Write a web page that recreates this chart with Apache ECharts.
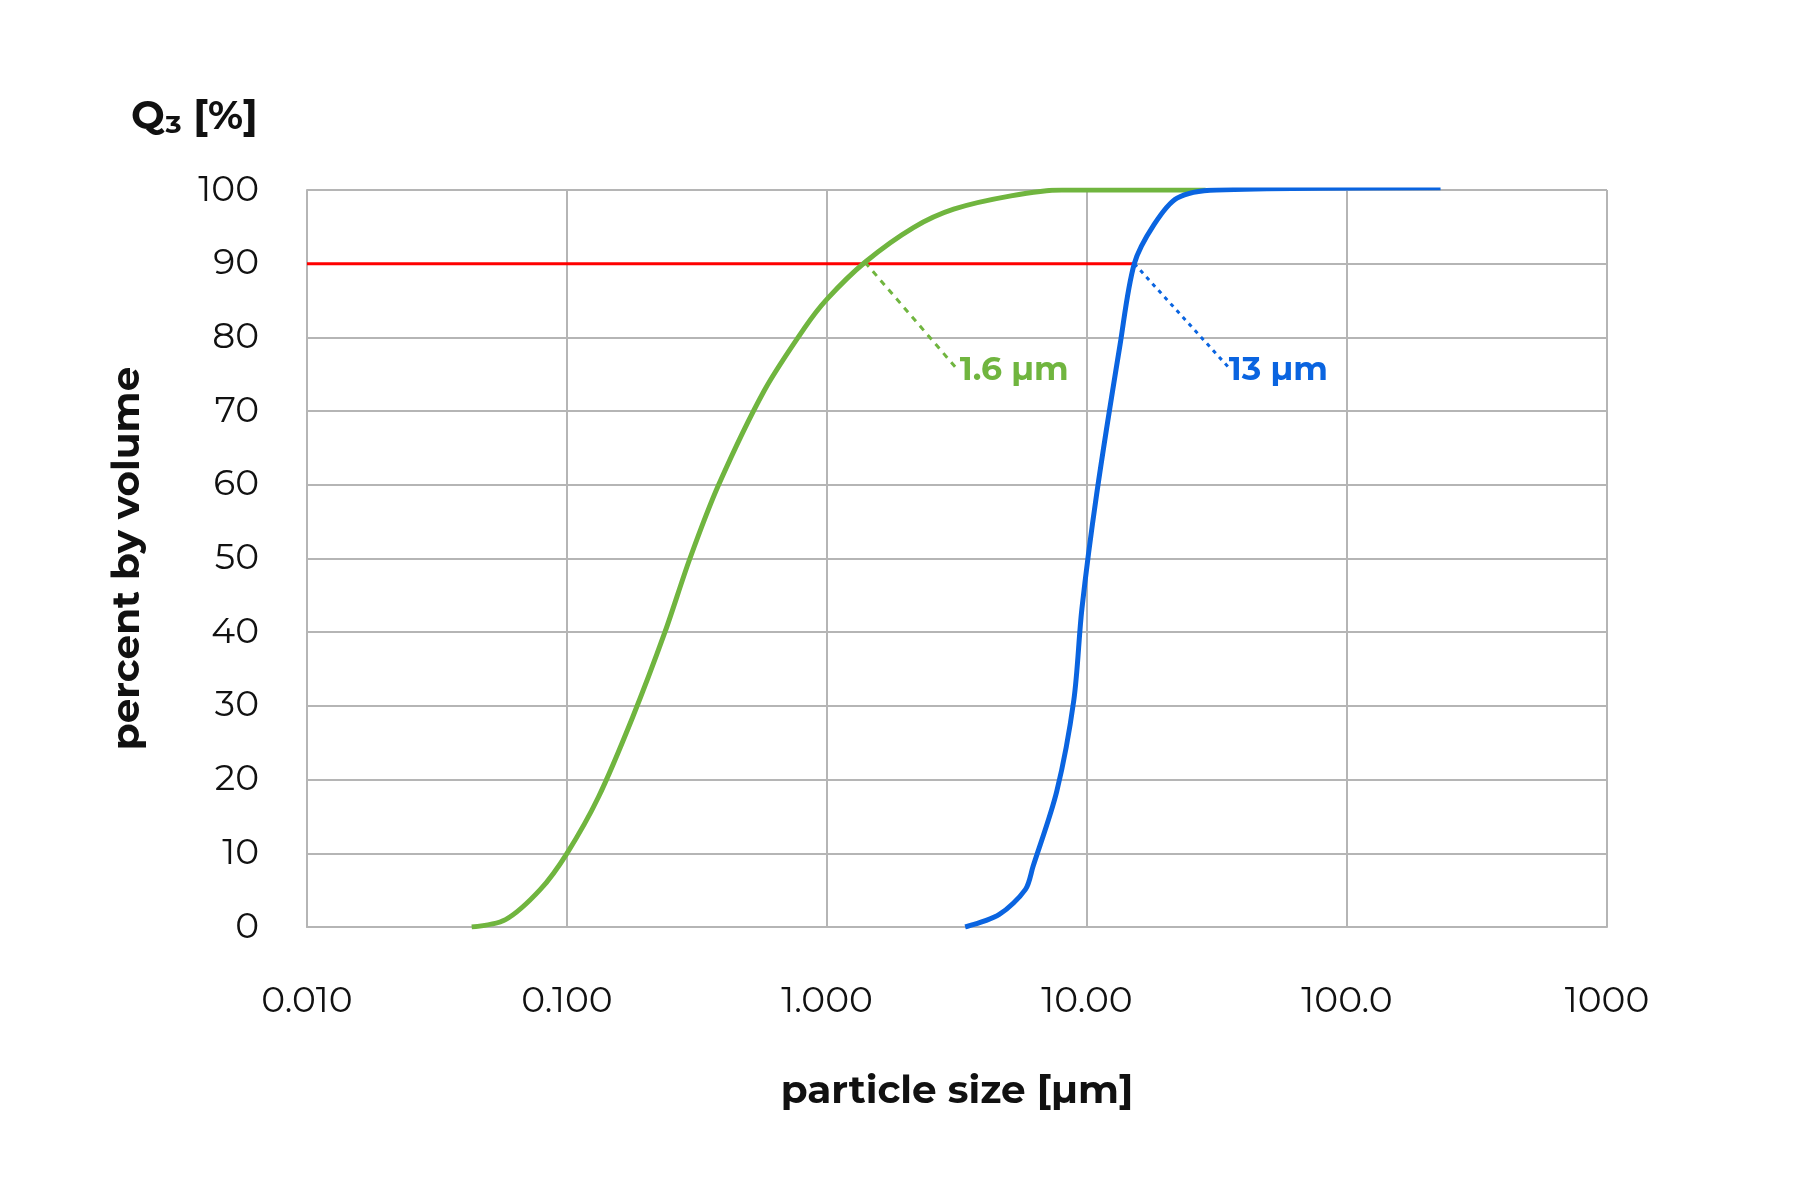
<!DOCTYPE html>
<html>
<head>
<meta charset="utf-8">
<script src="https://cdn.jsdelivr.net/npm/echarts@6/dist/echarts.min.js"></script>
<style>
  html, body { margin: 0; padding: 0; background: #fff; }
  #chart { width: 1800px; height: 1200px; }
</style>
</head>
<body>
<div id="chart"></div>
<script>
// particle size [µm] vs cumulative volume [%]
const fineSize = [0.043, 0.058, 0.079, 0.1, 0.132, 0.179, 0.238, 0.297, 0.383, 0.574, 0.82, 1.0, 1.4, 2.15, 3.07, 5.1, 8.0, 28.6];
const fineQ3 = [0, 1, 5.1, 10, 17.6, 28.5, 40, 50, 60, 72.8, 81.3, 85.2, 90.2, 94.9, 97.4, 99.2, 100, 100];
const coarseSize = [3.4, 4.6, 5.8, 6.2, 7.65, 8.9, 9.56, 10.9, 13.4, 15.2, 18.1, 22.2, 31.4, 229];
const coarseQ3 = [0, 1.7, 5.1, 8.2, 18.4, 30.8, 43.2, 58.8, 79, 90, 95.3, 98.9, 100, 100.3];
const d90Line = [[0.01, 90], [15.2, 90]];
const fineLeader = [[1.4, 90.2], [3.13, 75.9]];
const coarseLeader = [[15.2, 90], [35.1, 75.9]];
const xTickLabels = { "0.01": "0.010", "0.1": "0.100", "1": "1.000", "10": "10.00", "100": "100.0", "1000": "1000" };

const font = "Montserrat, 'Open Sans', sans-serif";
const chart = echarts.init(document.getElementById("chart"));
chart.setOption({
  animation: false,
  grid: { left: 307, right: 193, top: 190, bottom: 273 },
  title: {
    text: "Q\u2083 [%]", left: 126, top: 92,
    textStyle: { fontFamily: font, fontSize: 40, fontWeight: "bold", color: "#111" }
  },
  xAxis: {
    type: "log", logBase: 10, min: 0.01, max: 1000,
    name: "particle size [µm]", nameLocation: "middle", nameGap: 145,
    nameTextStyle: { fontFamily: font, fontSize: 39, fontWeight: "bold", color: "#111" },
    axisLine: { lineStyle: { color: "#b5b5b5", width: 2 } },
    axisTick: { show: false },
    minorTick: { show: false },
    splitLine: { show: true, lineStyle: { color: "#b5b5b5", width: 2 } },
    axisLabel: {
      margin: 56, fontFamily: font, fontSize: 36, color: "#111",
      formatter: (v) => xTickLabels[String(+v.toPrecision(3))] || ""
    }
  },
  yAxis: {
    type: "value", min: 0, max: 100, interval: 10,
    name: "percent by volume", nameLocation: "middle", nameGap: 160, nameRotate: 90,
    nameTextStyle: { fontFamily: font, fontSize: 39, fontWeight: "bold", color: "#111" },
    axisLine: { show: true, lineStyle: { color: "#b5b5b5", width: 2 } },
    axisTick: { show: false },
    splitLine: { lineStyle: { color: "#b5b5b5", width: 2 } },
    axisLabel: { margin: 48, fontFamily: font, fontSize: 36, color: "#111" }
  },
  series: [
    {
      type: "line", data: d90Line, showSymbol: false,
      lineStyle: { color: "#ff0000", width: 3 }
    },
    {
      type: "line", data: fineSize.map((x, i) => [x, fineQ3[i]]), smooth: 0.3, showSymbol: false,
      lineStyle: { color: "#70b53f", width: 5 }
    },
    {
      type: "line", data: coarseSize.map((x, i) => [x, coarseQ3[i]]), smooth: 0.3, showSymbol: false,
      lineStyle: { color: "#0a64e0", width: 5 }
    },
    {
      type: "line", data: fineLeader, showSymbol: false,
      lineStyle: { color: "#70b53f", width: 3, type: [6, 6] },
      endLabel: {
        show: true, formatter: "1.6 µm", offset: [-4, 3],
        fontFamily: font, fontSize: 33, fontWeight: "bold", color: "#70b53f"
      }
    },
    {
      type: "line", data: coarseLeader, showSymbol: false,
      lineStyle: { color: "#0a64e0", width: 3, type: [4, 5] },
      endLabel: {
        show: true, formatter: "13 µm", offset: [-8, 3],
        fontFamily: font, fontSize: 33, fontWeight: "bold", color: "#0a64e0"
      }
    }
  ]
});
</script>
</body>
</html>
